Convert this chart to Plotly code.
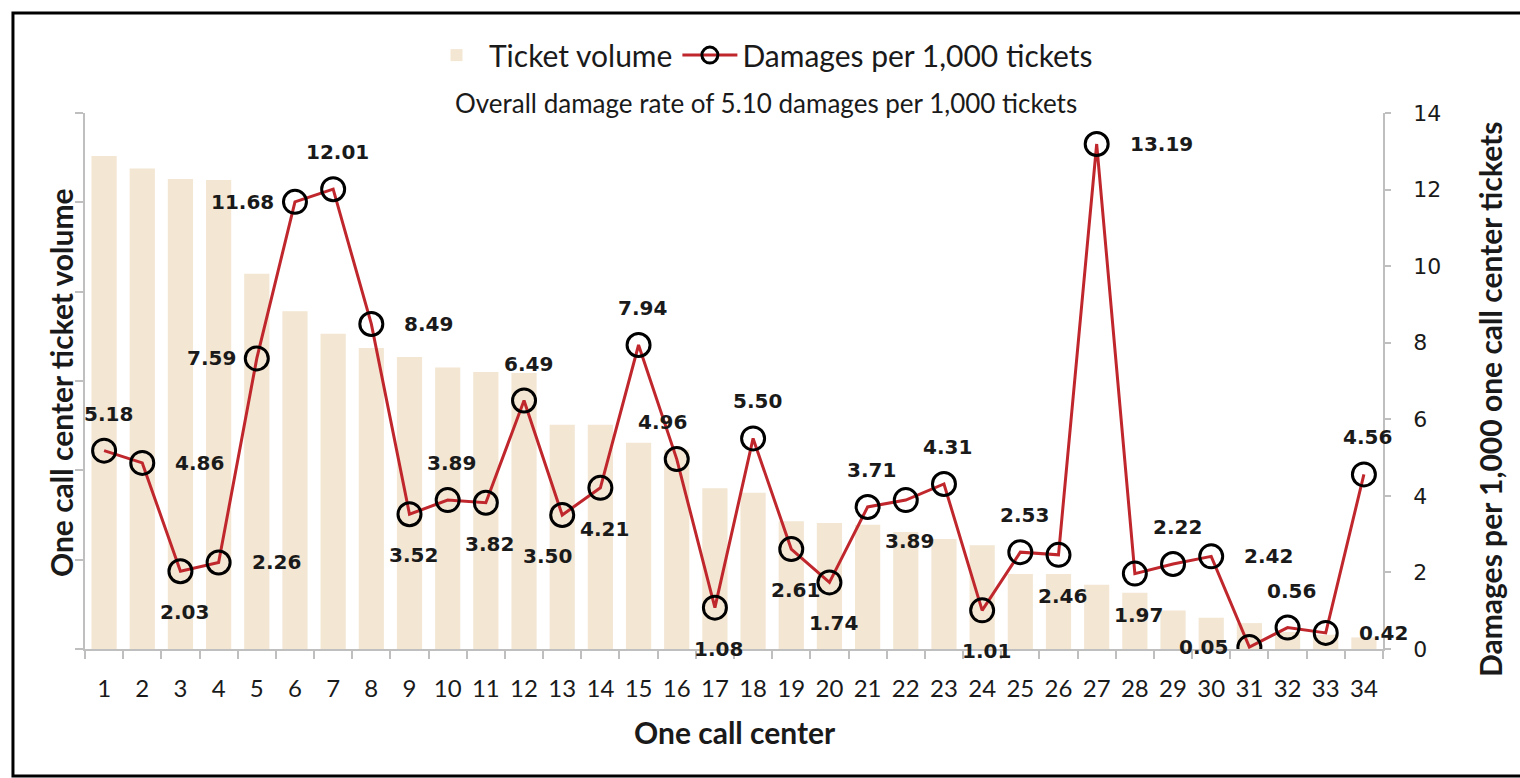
import plotly.graph_objects as go

# ---------------- data ----------------
centers = [str(i) for i in range(1, 35)]
ticket_volume = [552, 538, 526, 525, 420, 378, 353, 337, 327, 315, 310, 309,
                 251, 251, 231, 223, 180, 175, 143, 141, 139, 131, 123, 116,
                 84, 84, 72, 63, 43, 35, 29, 19, 16, 13]
damages_per_1000 = [5.18, 4.86, 2.03, 2.26, 7.59, 11.68, 12.01, 8.49, 3.52, 3.89,
                    3.82, 6.49, 3.50, 4.21, 7.94, 4.96, 1.08, 5.50, 2.61, 1.74,
                    3.71, 3.89, 4.31, 1.01, 2.53, 2.46, 13.19, 1.97, 2.22, 2.42,
                    0.05, 0.56, 0.42, 4.56]
label_text = ["%.2f" % v for v in damages_per_1000]
right_ticks = [0, 2, 4, 6, 8, 10, 12, 14]

# label placement codes (style, not data)
label_pos = ["T", "R", "B", "R", "L", "L", "T", "R", "B", "T",
             "B", "T", "BL", "B", "T", "TL", "B", "T", "B", "B",
             "T", "B", "T", "B", "T", "B", "R", "B", "T", "R",
             "L", "T", "R", "T"]

BAR_COLOR = "#F3E6D3"
LINE_COLOR = "#C0272D"
AXIS_COLOR = "#BFBFBF"
TXT = "#1a1a1a"
SANS = "Lato"
VERD = "DejaVu Sans"

fig = go.Figure()
fig.add_trace(go.Bar(
    x=centers, y=ticket_volume, name="Ticket volume",
    marker=dict(color=BAR_COLOR, line=dict(width=0)),
))
fig.add_trace(go.Scatter(
    x=centers, y=damages_per_1000, name="Damages per 1,000 tickets",
    yaxis="y2", mode="lines+markers",
    line=dict(color=LINE_COLOR, width=3),
    marker=dict(symbol="circle-open", size=23, color="black",
                line=dict(width=3, color="black")),
))

shift = {
    "T": dict(xanchor="center", yanchor="middle", xshift=4, yshift=37),
    "TL": dict(xanchor="center", yanchor="middle", xshift=-14, yshift=37),
    "B": dict(xanchor="center", yanchor="middle", xshift=4, yshift=-41),
    "BL": dict(xanchor="center", yanchor="middle", xshift=-15, yshift=-41),
    "L": dict(xanchor="right", yanchor="middle", xshift=-19, yshift=0),
    "R": dict(xanchor="left", yanchor="middle", xshift=31, yshift=0),
}
annotations = []
for i, (v, t, p) in enumerate(zip(damages_per_1000, label_text, label_pos)):
    # category index position on the category axis
    annotations.append(dict(
        x=i, y=v, xref="x", yref="y2", text=t, showarrow=False,
        font=dict(family=VERD, size=20, color=TXT, weight="bold"),
        **shift[p]))

annotations += [
    dict(text="Overall damage rate of 5.10 damages per 1,000 tickets",
         xref="paper", yref="paper", x=0.5247, y=1.0187, showarrow=False,
         xanchor="center", yanchor="middle",
         font=dict(family=SANS, size=26, color=TXT)),
    dict(text="<b>One call center</b>", xref="paper", yref="paper",
         x=0.5008, y=-0.1549, showarrow=False, xanchor="center", yanchor="middle",
         font=dict(family=SANS, size=30, color=TXT)),
    dict(text="<b>One call center ticket volume</b>", xref="paper", yref="paper",
         x=-0.0185, y=0.498, showarrow=False, textangle=-90,
         xanchor="center", yanchor="middle",
         font=dict(family=SANS, size=30, color=TXT)),
    dict(text="<b>Damages per 1,000 one call center tickets</b>", xref="paper",
         yref="paper", x=1.0824, y=0.4664, showarrow=False, textangle=-90,
         xanchor="center", yanchor="middle",
         font=dict(family=SANS, size=30, color=TXT)),
]

fig.update_layout(
    width=1520, height=778,
    margin=dict(l=85, r=137, t=113, b=129, pad=0),
    paper_bgcolor="white", plot_bgcolor="white",
    bargap=0.34,
    showlegend=True,
    legend=dict(orientation="h", x=0.5208, xanchor="center", y=1.108,
                yanchor="middle", font=dict(family=SANS, size=30, color=TXT),
                itemwidth=55, bgcolor="rgba(0,0,0,0)"),
    xaxis=dict(type="category", range=[-0.5, 33.5], tickson="boundaries",
               ticks="outside", ticklen=8, tickcolor=AXIS_COLOR, tickwidth=1.5,
               showline=True, linecolor=AXIS_COLOR, linewidth=1.5,
               showgrid=False, ticklabelstandoff=17, tickangle=0,
               tickfont=dict(family=SANS, size=24, color=TXT)),
    yaxis=dict(range=[0, 600], dtick=100, showticklabels=False,
               ticks="outside", ticklen=8, tickcolor=AXIS_COLOR, tickwidth=1.5,
               showline=True, linecolor=AXIS_COLOR, linewidth=1.5,
               showgrid=False, zeroline=False),
    yaxis2=dict(overlaying="y", side="right", range=[0, 14],
                tickvals=right_ticks, ticks="outside", ticklen=6,
                tickcolor=AXIS_COLOR, tickwidth=1.5,
                showline=True, linecolor=AXIS_COLOR, linewidth=1.5,
                showgrid=False, zeroline=False, ticklabelstandoff=18,
                tickfont=dict(family=VERD, size=22, color=TXT)),
    annotations=annotations,
    shapes=[dict(type="rect", xref="paper", yref="paper",
                 x0=-0.0555, x1=1.11, y0=-0.2369, y1=1.1866,
                 line=dict(color="black", width=3), fillcolor="rgba(0,0,0,0)",
                 layer="above")],
)

fig.write_html(
    "out.html",
    config={"displayModeBar": False},
    post_script="document.body.style.margin='0';document.body.style.overflow='hidden';",
)
